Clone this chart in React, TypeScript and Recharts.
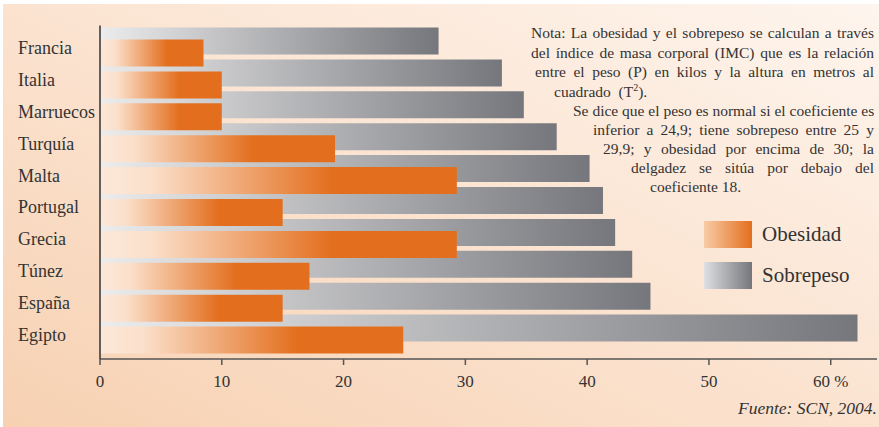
import { BarChart, Bar, XAxis, YAxis } from "recharts";

const countries = [
  "Francia",
  "Italia",
  "Marruecos",
  "Turquía",
  "Malta",
  "Portugal",
  "Grecia",
  "Túnez",
  "España",
  "Egipto",
];
const sobrepeso = [27.8, 33.0, 34.8, 37.5, 40.2, 41.3, 42.3, 43.7, 45.2, 62.2];
const obesidad = [8.5, 10.0, 10.0, 19.3, 29.3, 15.0, 29.3, 17.2, 15.0, 24.9];
const xTicks = [0, 10, 20, 30, 40, 50, 60];

const noteLines = [
  { text: "Nota: La obesidad y el sobrepeso se calculan a través", x: 531, y: 38, justify: true },
  { text: "del índice de masa corporal (IMC) que es la relación", x: 531, y: 57.5, justify: true },
  { text: "entre el peso (P) en kilos y la altura en metros al", x: 535, y: 77, justify: true },
  { text: "cuadrado  (T", x: 554, y: 96.5, justify: false, sup: true },
  { text: "Se dice que el peso es normal si el coeficiente es", x: 573, y: 116, justify: true },
  { text: "inferior a 24,9; tiene sobrepeso entre 25 y", x: 593, y: 135, justify: true },
  { text: "29,9; y obesidad por encima de 30; la", x: 603, y: 154, justify: true },
  { text: "delgadez se sitúa por debajo del", x: 631, y: 173, justify: true },
  { text: "coeficiente 18.", x: 650, y: 192, justify: false },
];

const FONT = "'Liberation Serif', 'DejaVu Serif', serif";
const TEXT = "#333333";

const data = countries.map((name, i) => ({
  name,
  sobrepeso: sobrepeso[i],
  obesidad: obesidad[i],
}));

const CountryTick = ({ y, payload }: any) => (
  <text
    x={18}
    y={y + 6}
    dy="0.36em"
    textAnchor="start"
    fill={TEXT}
    fontSize={18}
    fontFamily={FONT}
  >
    {payload.value}
  </text>
);

const legendItems = [
  { label: "Obesidad", bg: "linear-gradient(to right, #f8cba6, #e36f1e)" },
  { label: "Sobrepeso", bg: "linear-gradient(to right, #dedfe2, #75767b)" },
];

export default function App() {
  return (
    <div
      style={{
        position: "absolute",
        left: 0,
        top: 0,
        width: 879,
        height: 427,
        background: "#ffffff",
        overflow: "hidden",
      }}
    >
      <div
        style={{
          position: "absolute",
          left: 3,
          top: 4,
          width: 876,
          height: 423,
          background: "linear-gradient(to top right, #f7d1b2 0%, #fbe3d0 50%, #fef5ee 100%)",
        }}
      />
      <div style={{ position: "absolute", left: 0, top: 0 }}>
        <BarChart
          width={879}
          height={427}
          data={data}
          layout="vertical"
          margin={{ top: 25.5, right: 2, bottom: 38, left: 0 }}
        >
          <defs>
            <linearGradient id="grayGrad" x1="0" y1="0" x2="1" y2="0">
              <stop offset="0%" stopColor="#ececed" />
              <stop offset="100%" stopColor="#76777c" />
            </linearGradient>
            <linearGradient id="orangeGrad" x1="0" y1="0" x2="1" y2="0">
              <stop offset="0%" stopColor="#fce8d9" />
              <stop offset="14%" stopColor="#fbe0cb" />
              <stop offset="65%" stopColor="#e36f1e" />
              <stop offset="100%" stopColor="#e36f1e" />
            </linearGradient>
          </defs>
          <XAxis
            type="number"
            domain={[0, 63.8]}
            ticks={xTicks}
            allowDataOverflow
            height={30}
            tickSize={6}
            tickMargin={10}
            stroke="#444"
            axisLine={{ stroke: "#555", strokeWidth: 1.5 }}
            tickLine={{ stroke: "#555", strokeWidth: 1.5 }}
            tick={{ fill: TEXT, fontSize: 17, fontFamily: FONT }}
            tickFormatter={(v: number) => (v === 60 ? "60 %" : String(v))}
          />
          <YAxis
            yAxisId="gray"
            type="category"
            dataKey="name"
            width={100}
            padding={{ top: 0, bottom: 14.5 }}
            axisLine={{ stroke: "#333", strokeWidth: 1.5 }}
            tickLine={false}
            tick={<CountryTick />}
            interval={0}
          />
          <YAxis
            yAxisId="orange"
            type="category"
            dataKey="name"
            hide
            padding={{ top: 12, bottom: 2.5 }}
          />
          <Bar
            yAxisId="gray"
            dataKey="sobrepeso"
            name="Sobrepeso"
            fill="url(#grayGrad)"
            barSize={27}
            isAnimationActive={false}
          />
          <Bar
            yAxisId="orange"
            dataKey="obesidad"
            name="Obesidad"
            fill="url(#orangeGrad)"
            barSize={27}
            isAnimationActive={false}
          />
        </BarChart>
      </div>
      <div
        style={{
          position: "absolute",
          left: 704,
          top: 221,
          fontFamily: FONT,
          color: TEXT,
          fontSize: 21,
        }}
      >
        {legendItems.map((it, i) => (
          <div
            key={it.label}
            style={{ display: "flex", alignItems: "center", height: 27, marginTop: i ? 14 : 0 }}
          >
            <div style={{ width: 48, height: 27, background: it.bg }} />
            <span style={{ marginLeft: 10 }}>{it.label}</span>
          </div>
        ))}
      </div>
      {noteLines.map((l, i) => (
        <div
          key={i}
          style={{
            position: "absolute",
            left: l.x,
            top: l.y - 13,
            width: 874 - l.x,
            fontFamily: FONT,
            fontSize: 15.5,
            lineHeight: 1,
            color: TEXT,
            whiteSpace: "pre",
            textAlign: "left",
            textAlignLast: l.justify ? "justify" : "left",
          }}
        >
          {l.text}
          {l.sup ? (
            <>
              <sup style={{ fontSize: 10, lineHeight: 0 }}>2</sup>).
            </>
          ) : null}
        </div>
      ))}
      <div
        style={{
          position: "absolute",
          right: 2,
          top: 400,
          fontFamily: FONT,
          fontStyle: "italic",
          fontSize: 17.5,
          lineHeight: 1,
          color: TEXT,
        }}
      >
        Fuente: SCN, 2004.
      </div>
    </div>
  );
}
